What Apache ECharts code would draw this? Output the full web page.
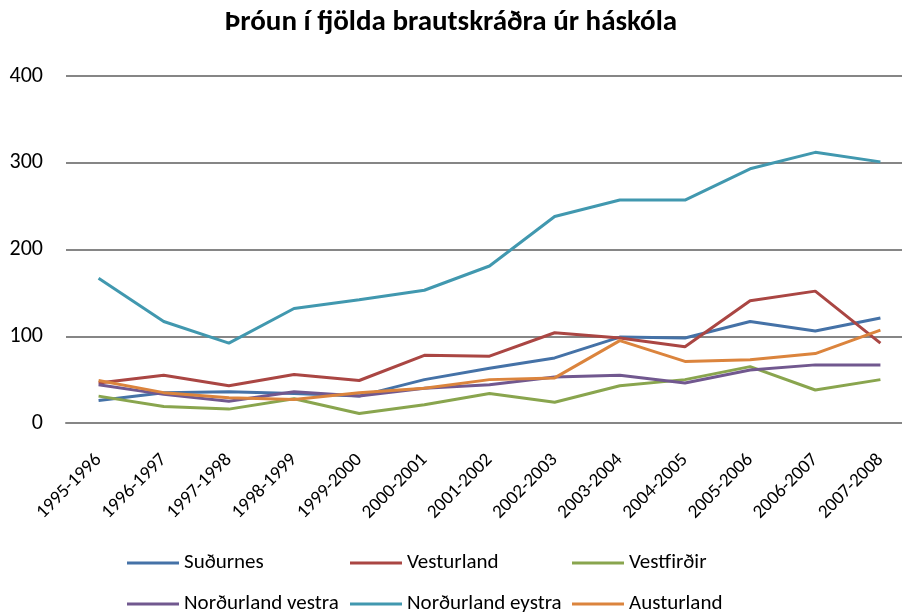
<!DOCTYPE html>
<html>
<head>
<meta charset="utf-8">
<script src="https://cdn.jsdelivr.net/npm/echarts@6/dist/echarts.min.js"></script>
<style>html,body{margin:0;padding:0;background:#fff}#c{width:902px;height:616px}</style>
</head>
<body>
<div id="c"></div>
<script>
const categories = ['1995-1996','1996-1997','1997-1998','1998-1999','1999-2000','2000-2001','2001-2002','2002-2003','2003-2004','2004-2005','2005-2006','2006-2007','2007-2008'];
const sudurnes = [26, 35, 36, 34, 31, 50, 63, 75, 99, 98, 117, 106, 121];
const vesturland = [46, 55, 43, 56, 49, 78, 77, 104, 98, 88, 141, 152, 92];
const vestfirdir = [31, 19, 16, 28, 11, 21, 34, 24, 43, 50, 65, 38, 50];
const nordurlandVestra = [44, 33, 25, 36, 31, 40, 44, 53, 55, 46, 61, 67, 67];
const nordurlandEystra = [167, 117, 92, 132, 142, 153, 181, 238, 257, 257, 293, 312, 301];
const austurland = [49, 35, 29, 27, 35, 40, 50, 52, 95, 71, 73, 80, 107];
const seriesNames = ['Suðurnes','Vesturland','Vestfirðir','Norðurland vestra','Norðurland eystra','Austurland'];
const seriesData = [sudurnes, vesturland, vestfirdir, nordurlandVestra, nordurlandEystra, austurland];
const colors = ['#4572A7','#AA4643','#89A54E','#71588F','#4198AF','#DB843D'];
const yTicks = [0, 100, 200, 300, 400];

const font = 'Carlito, "Open Sans", "Liberation Sans", sans-serif';
const legendPos = [[127,551],[350,551],[572,551],[127,592],[350,592],[572,592]];

const chart = echarts.init(document.getElementById('c'), null, {renderer:'canvas'});
chart.setOption({
  animation: false,
  backgroundColor: '#fff',
  color: colors,
  title: {
    text: 'Þróun í fjölda brautskráðra úr háskóla',
    left: 'center', top: 3,
    textStyle: {fontFamily: font, fontSize: 29, fontWeight: 'bold', color: '#000'}
  },
  legend: seriesNames.map((n, i) => ({
    data: [n], left: legendPos[i][0], top: legendPos[i][1], padding: 0,
    icon: 'rect', itemWidth: 52, itemHeight: 3, itemGap: 0,
    textStyle: {fontFamily: font, fontSize: 21, lineHeight: 24, color: '#000'}
  })),
  grid: {left: 66, top: 76, bottom: 193, width: 847, outerBoundsMode: 'none', containLabel: false},
  xAxis: {
    type: 'category', data: categories, boundaryGap: true,
    axisLine: {show: true, lineStyle: {color: '#868686', width: 2}},
    axisTick: {show: false},
    axisLabel: {rotate: 45, margin: 34, interval: 0, fontFamily: font, fontSize: 19, color: '#000'}
  },
  yAxis: {
    type: 'value', min: yTicks[0], max: yTicks[yTicks.length-1], interval: 100,
    axisLine: {show: false}, axisTick: {show: false},
    axisLabel: {margin: 23, fontFamily: font, fontSize: 22, color: '#000'},
    splitLine: {lineStyle: {color: '#868686', width: 2}}
  },
  series: seriesNames.map((n, i) => ({
    name: n, type: 'line', data: seriesData[i], symbol: 'none',
    lineStyle: {width: 3, color: colors[i]}, itemStyle: {color: colors[i]}
  }))
});
</script>
</body>
</html>
